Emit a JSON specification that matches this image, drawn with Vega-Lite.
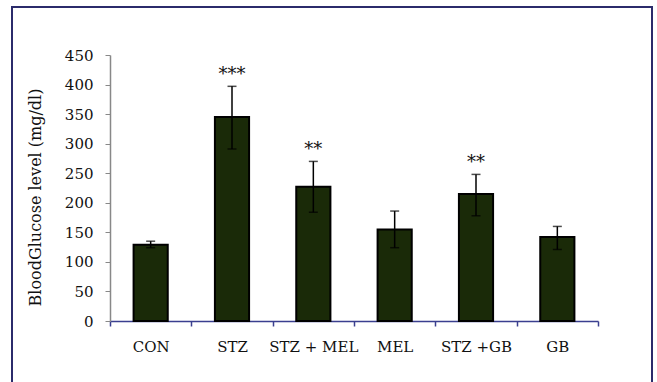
{
  "$schema": "https://vega.github.io/schema/vega-lite/v6.json",
  "width": 640,
  "height": 380,
  "autosize": "none",
  "padding": {"left": 12, "top": 7, "right": 5, "bottom": 0},
  "background": "white",
  "config": {
    "view": {"stroke": "#2b2b6b", "strokeWidth": 2},
    "font": "DejaVu Serif"
  },
  "data": {
    "values": [
      {"group": "CON", "mean": 129, "lo": 124, "hi": 135, "sig": ""},
      {"group": "STZ", "mean": 345, "lo": 291, "hi": 397, "sig": "***"},
      {"group": "STZ + MEL", "mean": 227, "lo": 184, "hi": 270, "sig": "**"},
      {"group": "MEL", "mean": 155, "lo": 124, "hi": 186, "sig": ""},
      {"group": "STZ +GB", "mean": 215, "lo": 178, "hi": 248, "sig": "**"},
      {"group": "GB", "mean": 142, "lo": 121, "hi": 160, "sig": ""}
    ]
  },
  "encoding": {
    "x": {
      "field": "group",
      "type": "nominal",
      "sort": null,
      "scale": {"type": "band", "range": [98, 586], "paddingInner": 0, "paddingOuter": 0},
      "axis": {
        "title": null,
        "labelAngle": 0,
        "labelFont": "DejaVu Serif",
        "labelFontSize": 15,
        "labelColor": "#111111",
        "labelPadding": 13,
        "tickBand": "extent",
        "tickSize": 5,
        "tickColor": "#3a3f8f",
        "domainColor": "#3a3f8f",
        "domainWidth": 1.5,
        "tickWidth": 1.5,
        "offset": -66
      }
    }
  },
  "layer": [
    {
      "mark": {"type": "bar", "color": "#1a2a08", "stroke": "#000000", "strokeWidth": 2, "width": {"band": 0.42}},
      "encoding": {
        "y": {
          "field": "mean",
          "type": "quantitative",
          "scale": {"domain": [0, 450], "range": [314, 48], "nice": false},
          "axis": {
            "title": "BloodGlucose level (mg/dl)",
            "titleFont": "DejaVu Serif",
            "titleFontSize": 16,
            "titleFontWeight": "normal",
            "titleColor": "#111111",
            "titlePadding": 21,
            "titleY": 190,
            "values": [0, 50, 100, 150, 200, 250, 300, 350, 400, 450],
            "grid": false,
            "labelFont": "DejaVu Serif",
            "labelFontSize": 15,
            "labelColor": "#111111",
            "labelPadding": 12,
            "tickSize": 5,
            "tickColor": "#888888",
            "domainColor": "#888888",
            "domainWidth": 1.5,
            "offset": -98
          }
        }
      }
    },
    {
      "mark": {"type": "rule", "color": "#000000", "strokeWidth": 1.5},
      "encoding": {
        "y": {"field": "lo", "type": "quantitative"},
        "y2": {"field": "hi"}
      }
    },
    {
      "mark": {"type": "tick", "orient": "horizontal", "color": "#000000", "size": 9, "thickness": 1.5},
      "encoding": {"y": {"field": "hi", "type": "quantitative"}}
    },
    {
      "mark": {"type": "tick", "orient": "horizontal", "color": "#000000", "size": 9, "thickness": 1.5},
      "encoding": {"y": {"field": "lo", "type": "quantitative"}}
    },
    {
      "mark": {"type": "text", "font": "DejaVu Serif", "fontSize": 18, "color": "#111111", "baseline": "middle", "dy": -11},
      "encoding": {
        "y": {"field": "hi", "type": "quantitative"},
        "text": {"field": "sig"}
      }
    }
  ]
}
